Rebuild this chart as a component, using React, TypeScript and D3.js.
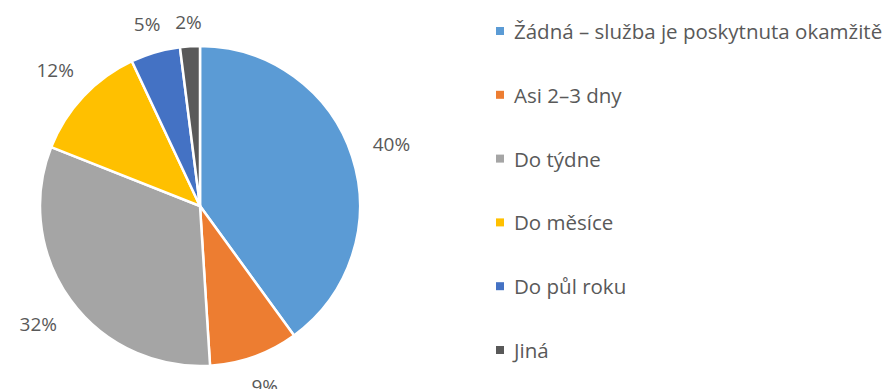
import React from "react";
import * as d3 from "d3";

const categories = [
  "Žádná – služba je poskytnuta okamžitě",
  "Asi 2–3 dny",
  "Do týdne",
  "Do měsíce",
  "Do půl roku",
  "Jiná",
];
const values = [40, 9, 32, 12, 5, 2];
const colors = ["#5B9BD5", "#ED7D31", "#A5A5A5", "#FFC000", "#4472C4", "#595959"];

const W = 895;
const H = 389;
const CX = 200;
const CY = 206;
const R = 160;
const FONT = "'Open Sans', 'DejaVu Sans', sans-serif";
const TEXT = "#595959";

export default function App() {
  const total = d3.sum(values);
  const pie = d3
    .pie<number>()
    .sort(null)
    .value((d) => d);
  const arcs = pie(values);
  const arcGen = d3.arc<d3.PieArcDatum<number>>().innerRadius(0).outerRadius(R);

  const legendY = d3
    .scalePoint<string>()
    .domain(categories)
    .range([31, 350]);

  return (
    <svg
      width={W}
      height={H}
      style={{ position: "absolute", left: 0, top: 0, background: "#fff" }}
    >
      <g transform={`translate(${CX},${CY})`}>
        {arcs.map((a, i) => (
          <path
            key={i}
            d={arcGen(a) || ""}
            fill={colors[i]}
            stroke="#fff"
            strokeWidth={2.5}
            strokeLinejoin="round"
          />
        ))}
        {arcs.map((a, i) => {
          const mid = (a.startAngle + a.endAngle) / 2;
          const s = Math.sin(mid);
          const c = -Math.cos(mid);
          const hw = 25;
          const hh = 8;
          const dist = R + 15 + Math.abs(s) * hw + Math.abs(c) * hh;
          const x = s * dist;
          const y = c * dist;
          const pct = Math.round((values[i] / total) * 100);
          return (
            <text
              key={i}
              x={x}
              y={y}
              textAnchor="middle"
              dominantBaseline="central"
              fontFamily={FONT}
              fontSize={19}
              fill={TEXT}
            >
              {pct}%
            </text>
          );
        })}
      </g>
      <g>
        {categories.map((cat, i) => {
          const y = legendY(cat) || 0;
          return (
            <g key={i}>
              <rect x={496} y={y - 4} width={8} height={8} fill={colors[i]} />
              <text
                x={514}
                y={y}
                dominantBaseline="central"
                fontFamily={FONT}
                fontSize={20.5}
                fill={TEXT}
              >
                {cat}
              </text>
            </g>
          );
        })}
      </g>
    </svg>
  );
}
